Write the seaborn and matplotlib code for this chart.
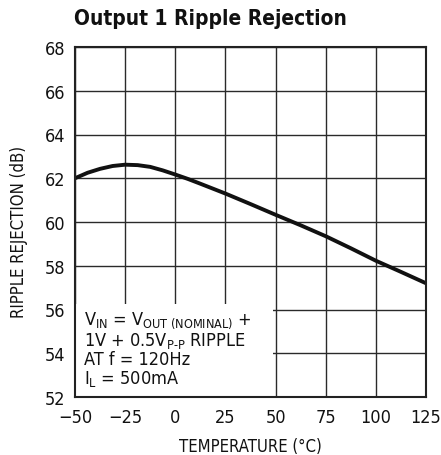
import matplotlib
matplotlib.use("Agg")
import matplotlib.pyplot as plt
import seaborn as sns
import pandas as pd
from matplotlib.patches import Rectangle
from matplotlib import font_manager as fm

# Data
temperature = [-50, -43.75, -37.5, -31.25, -25, -18.75, -12.5, -6.25, 0, 6.25, 12.5,
               25, 37.5, 50, 62.5, 75, 87.5, 100, 112.5, 125]
rejection = [62.0, 62.25, 62.43, 62.56, 62.62, 62.6, 62.52, 62.36, 62.17, 61.97, 61.75,
             61.3, 60.82, 60.33, 59.85, 59.35, 58.8, 58.23, 57.72, 57.2]
x_ticks = [-50, -25, 0, 25, 50, 75, 100, 125]
x_tick_labels = ["\u221250", "\u221225", "0", "25", "50", "75", "100", "125"]
y_ticks = [52, 54, 56, 58, 60, 62, 64, 66, 68]

sns.set_style("white")

names = {f.name for f in fm.fontManager.ttflist}
stretch = "normal"
if "Liberation Sans Narrow" in names:
    FONT = ["Liberation Sans Narrow", "DejaVu Sans"]
elif any(f.name == "DejaVu Sans" and str(f.stretch) in ("condensed", "semi-condensed")
         for f in fm.fontManager.ttflist):
    FONT = ["DejaVu Sans"]
    stretch = "condensed"
else:
    FONT = ["Liberation Sans", "DejaVu Sans"]
plt.rcParams["font.family"] = FONT
plt.rcParams["font.stretch"] = stretch

df = pd.DataFrame({"temp": temperature, "rr": rejection})

fig = plt.figure(figsize=(4.41, 4.56), dpi=100)
ax = fig.add_axes([75 / 441, 58 / 456, 351 / 441, 350 / 456])

ax.set_xlim(-50, 125)
ax.set_ylim(52, 68)
ax.set_xticks(x_ticks)
ax.set_xticklabels(x_tick_labels)
ax.set_yticks(y_ticks)
ax.grid(True, color="#2a2a2a", linewidth=1.0, zorder=1)
ax.set_axisbelow(True)

# white box behind annotation hides the grid
ax.add_patch(Rectangle((-50, 52), 98.7, 4.25, facecolor="white", edgecolor="none", zorder=1.5))

sns.lineplot(data=df, x="temp", y="rr", ax=ax, color="#111111", linewidth=2.8, zorder=3)

for s in ax.spines.values():
    s.set_color("#222222")
    s.set_linewidth(1.5)
    s.set_zorder(4)

ax.tick_params(axis="both", direction="in", length=3, width=1, color="#222222",
               labelsize=13, labelcolor="#111111")
ax.tick_params(axis="x", pad=8)
ax.tick_params(axis="y", pad=7)

ax.set_xlabel("TEMPERATURE (\u00b0C)", fontsize=12, color="#111111", labelpad=8)
ax.set_ylabel("RIPPLE REJECTION (dB)", fontsize=12, color="#111111")
ax.yaxis.set_label_coords(-0.135, 0.474)

fig.text(210 / 441, 1 - 19 / 456, "Output 1 Ripple Rejection", ha="center", va="center",
         fontsize=15, fontweight="bold", color="#111111")

txt = (r"V$_{\mathregular{IN}}$ = V$_{\mathregular{OUT\ (NOMINAL)}}$ +" "\n"
       "1V + 0.5V$_{\\mathregular{P\u2010P}}$ RIPPLE" "\n"
       "AT f = 120Hz" "\n"
       r"I$_{\mathregular{L}}$ = 500mA")
ax.text(-45.5, 52.4, txt, fontsize=13, color="#111111", ha="left", va="bottom",
        linespacing=1.0, zorder=5)

fig.savefig("out.png", dpi=100)
